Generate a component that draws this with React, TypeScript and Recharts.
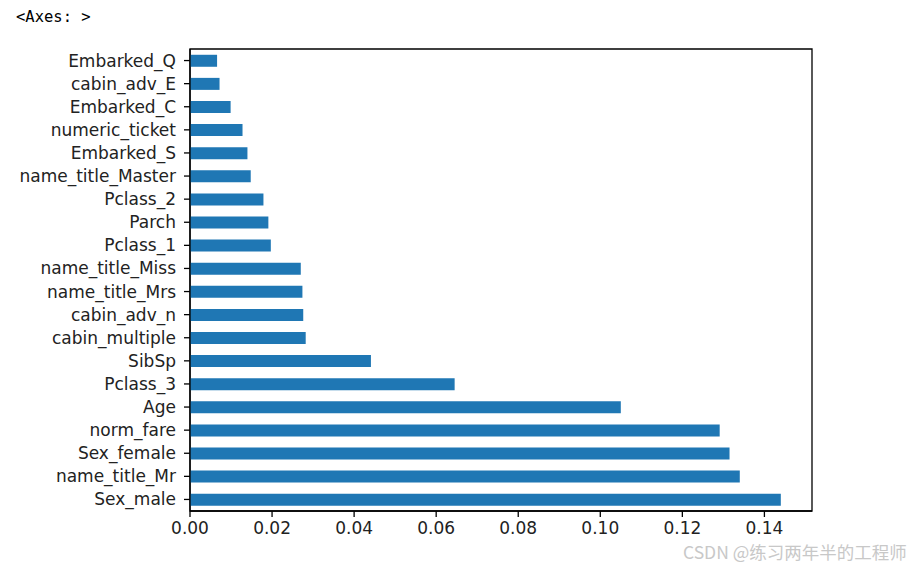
import React from 'react';
import { BarChart, Bar, XAxis, YAxis, ReferenceArea } from 'recharts';

const categories = [
  'Embarked_Q', 'cabin_adv_E', 'Embarked_C', 'numeric_ticket', 'Embarked_S',
  'name_title_Master', 'Pclass_2', 'Parch', 'Pclass_1', 'name_title_Miss',
  'name_title_Mrs', 'cabin_adv_n', 'cabin_multiple', 'SibSp', 'Pclass_3',
  'Age', 'norm_fare', 'Sex_female', 'name_title_Mr', 'Sex_male',
];
const importances = [
  0.0066, 0.0072, 0.0099, 0.0128, 0.0140,
  0.0148, 0.0179, 0.0191, 0.0197, 0.0270,
  0.0274, 0.0276, 0.0282, 0.0441, 0.0645,
  0.1050, 0.1291, 0.1315, 0.1340, 0.1440,
];
const xTicks = [0, 0.02, 0.04, 0.06, 0.08, 0.1, 0.12, 0.14];
const XMAX = 0.1516;

const data = categories.map((name, i) => ({ name, value: importances[i] }));

const FONT = '"DejaVu Sans", sans-serif';
const TEXT = '#222';

export default function App() {
  return (
    <div style={{ position: 'absolute', left: 0, top: 0, width: 913, height: 567, background: '#fff' }}>
      <div style={{ position: 'absolute', left: 16, top: 8, fontFamily: '"DejaVu Sans Mono", monospace', fontSize: 15.5, color: '#000' }}>
        {'<Axes: >'}
      </div>
      <BarChart
        width={913}
        height={567}
        data={data}
        layout="vertical"
        margin={{ top: 49, right: 101, bottom: 0, left: 0 }}
        barCategoryGap="25%"
      >
        <XAxis
          type="number"
          dataKey="value"
          domain={[0, XMAX]}
          ticks={xTicks}
          tickFormatter={(v: number) => v.toFixed(2)}
          allowDataOverflow
          height={56}
          tickSize={6}
          tickMargin={5}
          axisLine={{ stroke: '#000', strokeWidth: 1.3 }}
          tickLine={{ stroke: '#000', strokeWidth: 1.3 }}
          tick={{ fill: TEXT, fontSize: 17, fontFamily: FONT }}
        />
        <YAxis
          type="category"
          dataKey="name"
          width={190}
          interval={0}
          tickSize={6}
          tickMargin={8}
          axisLine={{ stroke: '#000', strokeWidth: 1.3 }}
          tickLine={{ stroke: '#000', strokeWidth: 1.3 }}
          tick={{ fill: TEXT, fontSize: 17, fontFamily: FONT }}
        />
        <ReferenceArea x1={0} x2={XMAX} fill="none" stroke="#000" strokeWidth={1.3} ifOverflow="visible" />
        <Bar dataKey="value" fill="#1f77b4" isAnimationActive={false} />
      </BarChart>
      <div style={{ position: 'absolute', left: 683, top: 539, fontFamily: '"Noto Sans CJK SC", sans-serif', fontSize: 17.5, color: '#c8c8c8', whiteSpace: 'nowrap' }}>
        CSDN @练习两年半的工程师
      </div>
    </div>
  );
}
